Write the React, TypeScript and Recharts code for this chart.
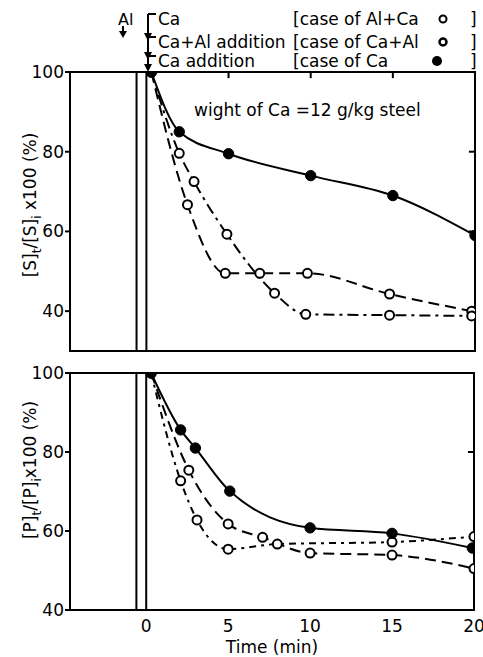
import React from 'react';
import { LineChart, Line, XAxis, YAxis, ReferenceLine, ReferenceArea } from 'recharts';

// ---- Top panel: [S]t/[S]i x100 (%) ----
const topTimeCa = [0.3, 2, 5, 10, 15, 20];
const topValCa = [100, 85, 79.5, 74, 69, 59];
const topTimeCaAl = [0.3, 2, 2.9, 4.9, 7.8, 9.7, 14.8, 19.8];
const topValCaAl = [100, 79.6, 72.5, 59.3, 44.5, 39.2, 39, 38.8];
const topTimeAlCa = [0.3, 2.5, 4.8, 6.9, 9.8, 14.8, 19.8];
const topValAlCa = [100, 66.7, 49.5, 49.5, 49.5, 44.3, 40];

// ---- Bottom panel: [P]t/[P]i x100 (%) ----
const botTimeCa = [0.3, 2.1, 3, 5.1, 10, 15, 19.9];
const botValCa = [100, 85.6, 81, 70.1, 60.8, 59.4, 55.7];
const botTimeDash = [0.3, 2.6, 5, 7.1, 10, 15, 20];
const botValDash = [100, 75.4, 61.8, 58.4, 54.4, 53.9, 50.5];
const botTimeDashDot = [0.3, 2.1, 3.1, 5, 8, 15, 20];
const botValDashDot = [100, 72.7, 62.8, 55.4, 56.7, 57.2, 58.6];

const xDomain: [number, number] = [-4.65, 20];
const xTicks = [0, 5, 10, 15, 20];
const topInnerTicks = [5, 10, 15];
const topYTicks = [40, 60, 80, 100];
const botYTicks = [40, 60, 80, 100];
const topRightTicks = [60, 80];
const botRightTicks = [80];
const addLines = [-0.6, 0];

const zip = (t: number[], v: number[]) => t.map((x, i) => ({ x, y: v[i] }));

const FONT = 'DejaVu Sans';
const tickStyle = { fontSize: 17, fill: '#000', fontFamily: FONT };

const FilledDot = (p: any) => (
  <circle key={`f${p.index}`} cx={p.cx} cy={p.cy} r={5.2} fill="#000" stroke="#000" />
);
const OpenDot = (p: any) => (
  <circle key={`o${p.index}`} cx={p.cx} cy={p.cy} r={4.5} fill="#fff" stroke="#000" strokeWidth={2} />
);

function Panel(props: {
  height: number;
  margin: any;
  yDomain: [number, number];
  yTicks: number[];
  rightTicks: number[];
  topTicks: number[];
  series: { data: { x: number; y: number }[]; dash?: string; filled?: boolean }[];
  bottomLabels: boolean;
}) {
  const { height, margin, yDomain, yTicks, rightTicks, topTicks, series, bottomLabels } = props;
  const [y0, y1] = yDomain;
  const yLen = (y1 - y0) * 0.022;
  const xLen = (xDomain[1] - xDomain[0]) * 0.015;
  return (
    <LineChart width={483} height={height} margin={margin}>
      <XAxis
        dataKey="x"
        type="number"
        domain={xDomain}
        allowDataOverflow
        ticks={xTicks}
        axisLine={{ stroke: '#000', strokeWidth: 2 }}
        tickLine={false}
        tick={bottomLabels ? tickStyle : false}
        height={bottomLabels ? 47 : 0}
        tickMargin={4}
        label={
          bottomLabels
            ? { value: 'Time (min)', position: 'insideBottom', offset: 4, style: { ...tickStyle, fontSize: 17 } }
            : undefined
        }
      />
      <YAxis
        type="number"
        domain={yDomain}
        ticks={yTicks}
        allowDataOverflow
        width={70}
        axisLine={{ stroke: '#000', strokeWidth: 2 }}
        tickLine={{ stroke: '#000', strokeWidth: 2 }}
        tickSize={5}
        tick={tickStyle}
        tickMargin={1}
      />
      <ReferenceArea x1={xDomain[0]} x2={xDomain[1]} y1={y0} y2={y1} fill="none" stroke="#000" strokeWidth={2} />
      {topTicks.map((t) => (
        <ReferenceLine
          key={`tt${t}`}
          segment={[{ x: t, y: y1 }, { x: t, y: y1 - yLen }]}
          stroke="#000"
          strokeWidth={2}
        />
      ))}
      {rightTicks.map((t) => (
        <ReferenceLine
          key={`rt${t}`}
          segment={[{ x: xDomain[1], y: t }, { x: xDomain[1] - xLen, y: t }]}
          stroke="#000"
          strokeWidth={2}
        />
      ))}
      {addLines.map((v) => (
        <ReferenceLine key={v} x={v} stroke="#000" strokeWidth={2} />
      ))}
      {series.map((s, i) => (
        <Line
          key={i}
          data={s.data}
          dataKey="y"
          type="monotone"
          stroke="#000"
          strokeWidth={2}
          strokeDasharray={s.dash}
          dot={s.filled ? FilledDot : OpenDot}
          activeDot={false}
          isAnimationActive={false}
        />
      ))}
    </LineChart>
  );
}

const headerLeft = ['Ca', 'Ca+Al addition', 'Ca addition'];
const headerRight = ['[case of Al+Ca', '[case of Ca+Al', '[case of Ca'];
const headerY = [25, 48, 67];

export default function App() {
  const topSeries = [
    { data: zip(topTimeAlCa, topValAlCa), dash: '11 6' },
    { data: zip(topTimeCaAl, topValCaAl), dash: '11 5 3 5' },
    { data: zip(topTimeCa, topValCa), filled: true },
  ];
  const botSeries = [
    { data: zip(botTimeDash, botValDash), dash: '11 6' },
    { data: zip(botTimeDashDot, botValDashDot), dash: '7 5 3 5' },
    { data: zip(botTimeCa, botValCa), filled: true },
  ];
  return (
    <div style={{ position: 'absolute', left: 0, top: 0, width: 483, height: 657, background: '#fff' }}>
      <Panel
        height={355}
        margin={{ top: 72, right: 8, bottom: 4, left: 0 }}
        yDomain={[30, 100]}
        yTicks={topYTicks}
        rightTicks={topRightTicks}
        topTicks={topInnerTicks}
        series={topSeries}
        bottomLabels={false}
      />
      <Panel
        height={302}
        margin={{ top: 18, right: 9, bottom: 0, left: 0 }}
        yDomain={[40, 100]}
        yTicks={botYTicks}
        rightTicks={botRightTicks}
        topTicks={[]}
        series={botSeries}
        bottomLabels
      />
      <svg
        width={483}
        height={657}
        style={{ position: 'absolute', left: 0, top: 0, pointerEvents: 'none' }}
        fontFamily={FONT}
      >
        {/* header */}
        <text x={118} y={25} fontSize={16}>Al</text>
        <line x1={123} y1={26} x2={123} y2={34} stroke="#000" strokeWidth={2} />
        <path d="M119,31 L127,31 L123,38 Z" fill="#000" />
        <line x1={148} y1={14} x2={148} y2={68} stroke="#000" strokeWidth={2} />
        {headerY.map((y, i) => (
          <g key={i}>
            <line x1={148} y1={y - 11} x2={156} y2={y - 11} stroke="#000" strokeWidth={2} />
            <text x={158} y={y} fontSize={17}>{headerLeft[i]}</text>
            <text x={293} y={y} fontSize={17}>{headerRight[i]}</text>
            <text x={470} y={y} fontSize={17}>]</text>
          </g>
        ))}
        <path d="M144,33 L152,33 L148,41 Z" fill="#000" />
        <path d="M144,52 L152,52 L148,60 Z" fill="#000" />
        <path d="M144,64 L152,64 L148,72 Z" fill="#000" />
        <circle cx={443} cy={19} r={3.5} fill="#fff" stroke="#000" strokeWidth={2} />
        <circle cx={443} cy={42} r={3.5} fill="#fff" stroke="#000" strokeWidth={2.5} />
        <circle cx={437} cy={61} r={5} fill="#000" />
        {/* annotation */}
        <text x={194} y={116} fontSize={17}>wight of Ca =12 g/kg steel</text>
        {/* y labels */}
        <text transform="translate(36,205) rotate(-90)" textAnchor="middle" fontSize={17}>
          [S]<tspan dy={5} fontSize={12}>t</tspan>
          <tspan dy={-5}>/[S]</tspan>
          <tspan dy={5} fontSize={12}>i</tspan>
          <tspan dy={-5}>{'  x100  (%)'}</tspan>
        </text>
        <text transform="translate(36,470) rotate(-90)" textAnchor="middle" fontSize={17}>
          [P]<tspan dy={5} fontSize={12}>t</tspan>
          <tspan dy={-5}>/[P]</tspan>
          <tspan dy={5} fontSize={12}>i</tspan>
          <tspan dy={-5}>{'x100 (%)'}</tspan>
        </text>
      </svg>
    </div>
  );
}
